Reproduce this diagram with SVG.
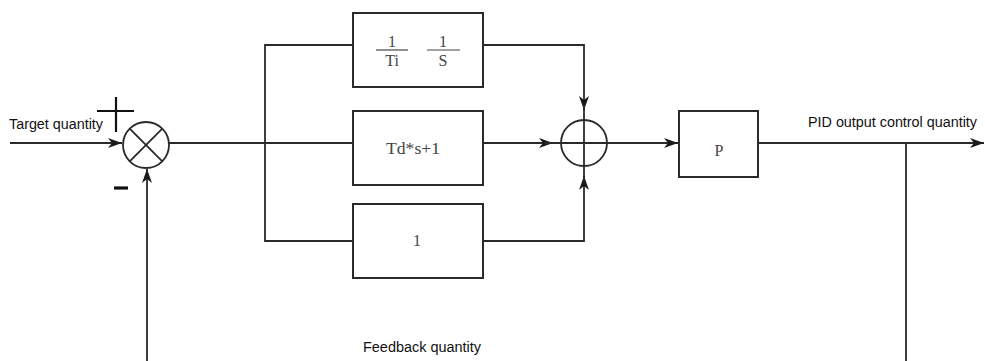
<svg xmlns="http://www.w3.org/2000/svg" width="985" height="361" viewBox="0 0 985 361">
<style>
.ln{fill:none;stroke:#2a2a2a;stroke-width:1.8}
.bx{fill:#fff;stroke:#2a2a2a;stroke-width:2}
.lbl{font-family:"Liberation Sans",Arial,sans-serif;font-size:14px;fill:#111}
.mth{font-family:"Liberation Serif","Times New Roman",serif;font-size:16px;fill:#444;text-anchor:middle}
</style>
<defs>
<marker id="ah" viewBox="0 0 14 10" refX="14" refY="5" markerWidth="14" markerHeight="10" markerUnits="userSpaceOnUse" orient="auto">
<path d="M0,0 L14,5 L0,10 L4,5 z" fill="#1a1a1a"/>
</marker>
</defs>
<rect width="985" height="361" fill="#fff"/>
<g id="connectors">
<line class="ln" x1="10" y1="143" x2="122" y2="143" marker-end="url(#ah)"/>
<line class="ln" x1="169" y1="143" x2="353" y2="143"/>
<polyline class="ln" points="353,45 265,45 265,241 353,241"/>
<line class="ln" x1="483" y1="143" x2="553" y2="143" marker-end="url(#ah)"/>
<polyline class="ln" points="483,45 584,45 584,110" marker-end="url(#ah)"/>
<polyline class="ln" points="483,241 584,241 584,176" marker-end="url(#ah)"/>
<line class="ln" x1="584" y1="105" x2="584" y2="180"/>
<line class="ln" x1="545" y1="143" x2="678" y2="143" marker-end="url(#ah)"/>
<line class="ln" x1="758" y1="143" x2="984" y2="143" marker-end="url(#ah)"/>
<line class="ln" x1="906" y1="143" x2="906" y2="361"/>
<line class="ln" x1="147" y1="361" x2="147" y2="169" marker-end="url(#ah)"/>
</g>
<g id="sum1">
<circle class="ln" cx="146" cy="145" r="23" fill="#fff"/>
<line class="ln" x1="129.7" y1="128.7" x2="162.3" y2="161.3"/>
<line class="ln" x1="162.3" y1="128.7" x2="129.7" y2="161.3"/>
<line x1="97" y1="111" x2="134" y2="111" stroke="#111" stroke-width="2.2"/>
<line x1="116" y1="97" x2="116" y2="132" stroke="#111" stroke-width="2.2"/>
<line x1="114" y1="188" x2="128" y2="188" stroke="#111" stroke-width="3.2"/>
</g>
<g id="sum2">
<circle class="ln" cx="584" cy="143" r="23"/>
</g>
<g id="integral">
<rect class="bx" x="353" y="13" width="130" height="74"/>
<text class="mth" x="392" y="47">1</text>
<line x1="376" y1="50" x2="408" y2="50" stroke="#444" stroke-width="1.2"/>
<text class="mth" x="392" y="66">Ti</text>
<text class="mth" x="443" y="47">1</text>
<line x1="427" y1="50" x2="460" y2="50" stroke="#444" stroke-width="1.2"/>
<text class="mth" x="443" y="66">S</text>
</g>
<g id="derivative">
<rect class="bx" x="353" y="111" width="130" height="74"/>
<text class="mth" x="413" y="154" textLength="54" lengthAdjust="spacingAndGlyphs">Td*s+1</text>
</g>
<g id="proportional1">
<rect class="bx" x="353" y="204" width="130" height="74"/>
<text class="mth" x="417" y="246">1</text>
</g>
<g id="gainP">
<rect class="bx" x="679" y="111" width="79" height="66"/>
<text class="mth" x="719" y="156">P</text>
</g>
<g id="labels">
<text class="lbl" x="9" y="129" textLength="94" lengthAdjust="spacingAndGlyphs">Target quantity</text>
<text class="lbl" x="808" y="127" textLength="169" lengthAdjust="spacingAndGlyphs">PID output control quantity</text>
<text class="lbl" x="363" y="352" textLength="118" lengthAdjust="spacingAndGlyphs">Feedback quantity</text>
</g>
</svg>
